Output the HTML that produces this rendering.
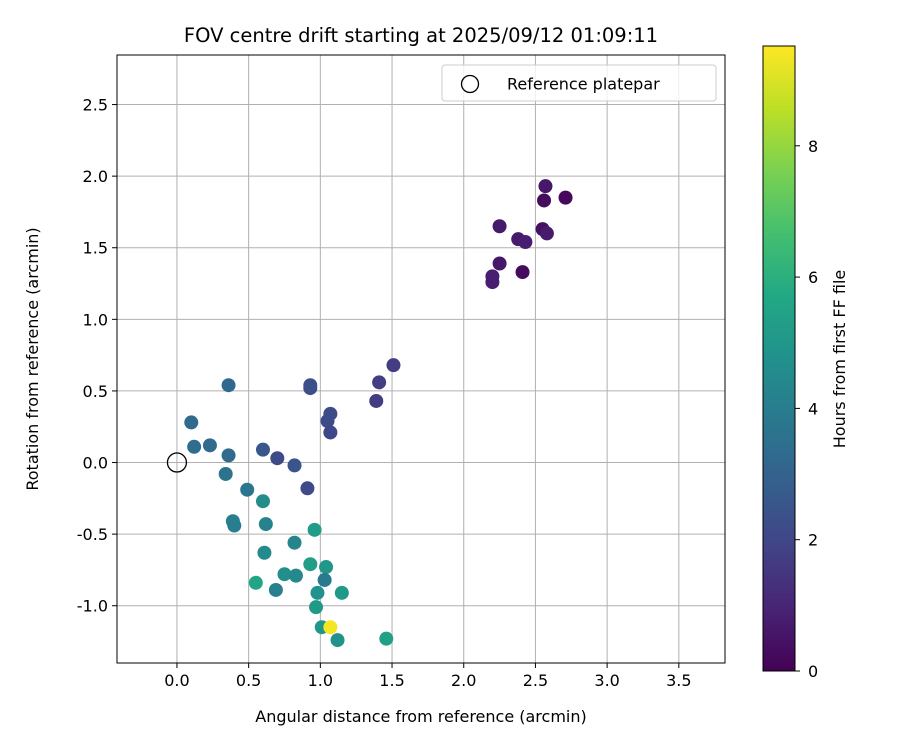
<!DOCTYPE html>
<html><head><meta charset="utf-8"><style>
body{margin:0;background:#fff;}
svg text{font-family:"DejaVu Sans","Liberation Sans",sans-serif;fill:#000;}
</style></head><body>
<svg id="chart" width="900" height="750" xmlns="http://www.w3.org/2000/svg">
<rect width="900" height="750" fill="#fff"/>
<g id="grid"></g>
<g id="points"></g>
<rect x="117" y="55" width="608" height="608" fill="none" stroke="#000" stroke-width="1"/>
<g id="xticks"></g>
<g id="yticks"></g>
<text x="421" y="42" style="font-size:19.5px" text-anchor="middle">FOV centre drift starting at 2025/09/12 01:09:11</text>
<text x="421" y="722" style="font-size:16px" text-anchor="middle">Angular distance from reference (arcmin)</text>
<text transform="translate(38,359) rotate(-90)" style="font-size:16px" text-anchor="middle">Rotation from reference (arcmin)</text>
<g>
<rect x="442" y="65" width="274" height="36" rx="3" fill="#fff" fill-opacity="0.8" stroke="#ccc"/>
<circle cx="470" cy="84" r="8.5" fill="none" stroke="#000" stroke-width="1.3"/>
<text x="507" y="89.5" style="font-size:16px">Reference platepar</text>
</g>
<defs><linearGradient id="vir" x1="0" y1="1" x2="0" y2="0">
<stop offset="0" stop-color="#440154"/><stop offset="0.1" stop-color="#482475"/><stop offset="0.2" stop-color="#414487"/><stop offset="0.3" stop-color="#355f8d"/><stop offset="0.4" stop-color="#2a788e"/><stop offset="0.5" stop-color="#21918c"/><stop offset="0.6" stop-color="#22a884"/><stop offset="0.7" stop-color="#44bf70"/><stop offset="0.8" stop-color="#7ad151"/><stop offset="0.9" stop-color="#bddf26"/><stop offset="1" stop-color="#fde725"/>
</linearGradient></defs>
<rect x="763" y="46" width="32" height="625" fill="url(#vir)" stroke="#000" stroke-width="1"/>
<g id="cbticks"></g>
<text transform="translate(845,359) rotate(-90)" style="font-size:16px" text-anchor="middle">Hours from first FF file</text>
</svg>
<script>
const xs=[2.57,2.56,2.71,2.25,2.55,2.58,2.38,2.43,2.25,2.20,2.20,2.41,
1.51,1.41,1.39,0.93,0.93,1.07,1.05,1.07,0.60,0.70,0.82,0.91,
0.36,0.10,0.12,0.23,0.36,0.34,0.49,0.39,0.40,0.60,0.62,0.61,0.96,0.82,0.55,0.75,0.83,0.69,0.93,1.04,1.03,1.15,0.98,0.97,1.01,1.07,1.12,1.46];
const ys=[1.93,1.83,1.85,1.65,1.63,1.60,1.56,1.54,1.39,1.30,1.26,1.33,
0.68,0.56,0.43,0.54,0.52,0.34,0.29,0.21,0.09,0.03,-0.02,-0.18,
0.54,0.28,0.11,0.12,0.05,-0.08,-0.19,-0.41,-0.44,-0.27,-0.43,-0.63,-0.47,-0.56,-0.84,-0.78,-0.79,-0.89,-0.71,-0.73,-0.82,-0.91,-0.91,-1.01,-1.15,-1.15,-1.24,-1.23];
const hours=[0.6,0.3,0.2,0.7,0.4,0.7,0.7,0.8,0.6,0.8,0.8,0.3,
1.7,1.7,1.7,2.3,2.3,2.2,2.2,2.0,2.6,2.2,2.5,2.1,
3.2,3.3,3.4,3.3,3.3,3.6,3.7,4.0,4.0,4.6,4.2,4.5,5.2,4.3,5.6,4.7,4.4,4.1,5.3,5.0,3.9,5.1,4.8,5.1,5.0,9.4,4.8,5.4];
const xTicks=[0,0.5,1,1.5,2,2.5,3,3.5];
const yTicks=[-1,-0.5,0,0.5,1,1.5,2,2.5];
const cbTicks=[0,2,4,6,8];
const X0=-0.418,X1=3.822,Y0=-1.40,Y1=2.846,CMAX=9.52;
const sx=v=>117+(v-X0)/(X1-X0)*608;
const sy=v=>663-(v-Y0)/(Y1-Y0)*608;
const sc=v=>671-v/CMAX*625;
const vir=["#440154","#482475","#414487","#355f8d","#2a788e","#21918c","#22a884","#44bf70","#7ad151","#bddf26","#fde725"];
function col(h){let t=Math.max(0,Math.min(1,h/CMAX))*10;let i=Math.min(9,Math.floor(t)),f=t-i;
const a=vir[i],b=vir[i+1];const p=(s,k)=>parseInt(s.substr(1+2*k,2),16);
let c=[0,1,2].map(k=>Math.round(p(a,k)+(p(b,k)-p(a,k))*f));return `rgb(${c.join(',')})`;}
const NS="http://www.w3.org/2000/svg";
function mk(tag,attrs,parent){const e=document.createElementNS(NS,tag);for(const k in attrs)e.setAttribute(k,attrs[k]);parent.appendChild(e);return e;}
const grid=document.getElementById('grid'),xt=document.getElementById('xticks'),yt=document.getElementById('yticks'),pts=document.getElementById('points'),cb=document.getElementById('cbticks');
xTicks.forEach(v=>{const x=sx(v);
const g=mk('line',{x1:x,x2:x,y1:55,y2:663,stroke:'#b0b0b0','stroke-width':1},grid);

mk('line',{x1:x,x2:x,y1:663,y2:668,stroke:'#000'},xt);
const t=mk('text',{x:x,y:686,style:'font-size:16px','text-anchor':'middle'},xt);t.textContent=v.toFixed(1);
});
yTicks.forEach(v=>{const y=sy(v);
const g=mk('line',{x1:117,x2:725,y1:y,y2:y,stroke:'#b0b0b0','stroke-width':1},grid);

mk('line',{x1:112,x2:117,y1:y,y2:y,stroke:'#000'},yt);
const t=mk('text',{x:108,y:y+6,style:'font-size:16px','text-anchor':'end'},yt);t.textContent=v.toFixed(1);
});
xs.forEach((v,i)=>{const c=mk('circle',{cx:sx(v),cy:sy(ys[i]),r:7,fill:col(hours[i])},pts);
});
const ref=mk('circle',{cx:sx(0),cy:sy(0),r:9.5,fill:'none',stroke:'#000','stroke-width':1.3},pts);

cbTicks.forEach(v=>{const y=sc(v);mk('line',{x1:795,x2:800,y1:y,y2:y,stroke:'#000'},cb);
const t=mk('text',{x:808,y:y+6,style:'font-size:16px'},cb);t.textContent=v;
});
</script>
</body></html>
